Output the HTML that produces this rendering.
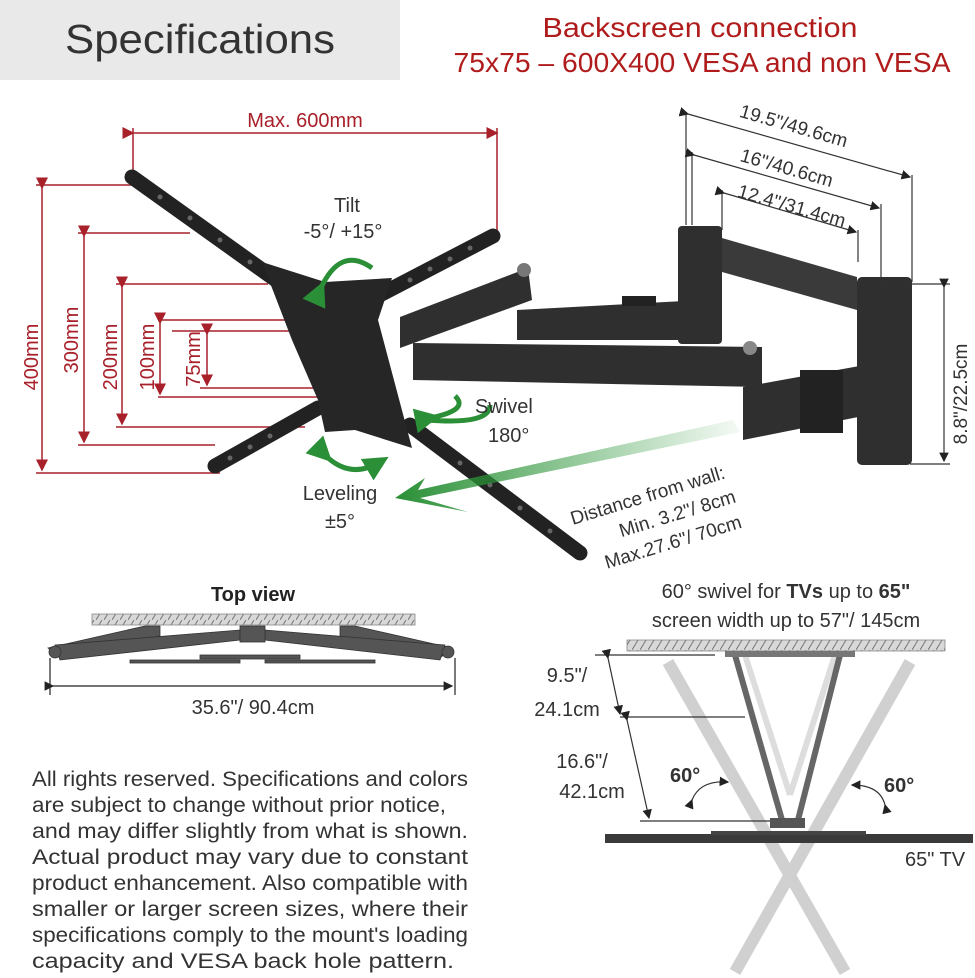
<!DOCTYPE html>
<html><head><meta charset="utf-8"><style>
html,body{margin:0;padding:0;background:#fff}
svg{display:block}
text{font-family:"Liberation Sans",sans-serif}
</style></head><body>
<svg width="975" height="978" viewBox="0 0 975 978" xmlns="http://www.w3.org/2000/svg">
<defs>
<linearGradient id="g" x1="1" y1="0" x2="0" y2="0"><stop offset="0" stop-color="#2e9a3c" stop-opacity="0.05"/><stop offset="1" stop-color="#2a8f36"/></linearGradient>
<pattern id="h" width="8" height="10" patternUnits="userSpaceOnUse"><rect width="8" height="10" fill="#d8d8d8"/><line x1="0" y1="10" x2="6" y2="0" stroke="#777" stroke-width="1"/></pattern>
<marker id="ar" markerWidth="8" markerHeight="8" refX="7" refY="4" orient="auto"><path d="M0,0L8,4L0,8z" fill="#a8202a"/></marker>
<marker id="ak" markerWidth="8" markerHeight="8" refX="7" refY="4" orient="auto"><path d="M0,0L8,4L0,8z" fill="#222"/></marker>
<marker id="ag" markerWidth="5" markerHeight="5" refX="3" refY="2.5" orient="auto"><path d="M0,0L5,2.5L0,5z" fill="#2a8f36"/></marker>
</defs>
<rect x="0" y="0" width="400" height="80" fill="#e9e9e9"/>
<text x="200" y="53" font-size="41" fill="#333" text-anchor="middle" textLength="270" lengthAdjust="spacingAndGlyphs">Specifications</text>
<text x="700" y="37" font-size="28" fill="#b01c1c" text-anchor="middle" textLength="315" lengthAdjust="spacingAndGlyphs">Backscreen connection</text>
<text x="702" y="72" font-size="28" fill="#b01c1c" text-anchor="middle" textLength="497" lengthAdjust="spacingAndGlyphs">75x75 – 600X400 VESA and non VESA</text>

<!-- red dimensions -->
<g stroke="#a8202a" stroke-width="1.5" fill="none">
<line x1="133" y1="133" x2="497" y2="133" marker-start="url(#ar)" marker-end="url(#ar)"/>
<line x1="133" y1="128" x2="133" y2="182"/><line x1="497" y1="128" x2="497" y2="232"/>
<line x1="36" y1="185" x2="135" y2="185"/><line x1="36" y1="473" x2="220" y2="473"/>
<line x1="42" y1="188" x2="42" y2="470" marker-start="url(#ar)" marker-end="url(#ar)"/>
<line x1="78" y1="233" x2="190" y2="233"/><line x1="78" y1="445" x2="215" y2="445"/>
<line x1="84" y1="236" x2="84" y2="442" marker-start="url(#ar)" marker-end="url(#ar)"/>
<line x1="116" y1="284" x2="268" y2="284"/><line x1="116" y1="427" x2="305" y2="427"/>
<line x1="122" y1="287" x2="122" y2="424" marker-start="url(#ar)" marker-end="url(#ar)"/>
<line x1="158" y1="320" x2="318" y2="320"/><line x1="158" y1="397" x2="325" y2="397"/>
<line x1="160" y1="323" x2="160" y2="394" marker-start="url(#ar)" marker-end="url(#ar)"/>
<line x1="172" y1="331" x2="320" y2="331"/><line x1="200" y1="388" x2="320" y2="388"/>
<line x1="207" y1="334" x2="207" y2="385" marker-start="url(#ar)" marker-end="url(#ar)"/>
</g>
<g fill="#a8202a" font-size="20">
<text x="305" y="127" text-anchor="middle">Max. 600mm</text>
<text transform="translate(38,357) rotate(-90)" text-anchor="middle">400mm</text>
<text transform="translate(78,340) rotate(-90)" text-anchor="middle">300mm</text>
<text transform="translate(117,357) rotate(-90)" text-anchor="middle">200mm</text>
<text transform="translate(154,357) rotate(-90)" text-anchor="middle">100mm</text>
<text transform="translate(200,359) rotate(-90)" text-anchor="middle">75mm</text>
</g>

<!-- wall bracket and arms -->
<g fill="#2f2f2f">
<polygon points="722,238 857,277 857,310 722,272" fill="#3a3a3a"/>
<rect x="678" y="226" width="44" height="118" rx="4"/>
<rect x="857" y="277" width="55" height="188" rx="5"/>
<polygon points="400,317 528,268 532,300 400,348"/>
<polygon points="517,310 703,300 703,340 517,340"/>
<rect x="622" y="296" width="34" height="10" fill="#222"/>
<polygon points="413,343 762,347 762,387 413,380"/>
<polygon points="743,387 893,360 893,410 743,440"/>
<rect x="800" y="370" width="43" height="63" fill="#222"/>
<circle cx="524" cy="270" r="7" fill="#777"/><circle cx="750" cy="348" r="7" fill="#888"/>
</g>
<!-- VESA X -->
<g stroke="#222" stroke-width="15" stroke-linecap="round">
<line x1="132" y1="177" x2="290" y2="290"/>
<line x1="493" y1="236" x2="370" y2="300"/>
<line x1="215" y1="466" x2="318" y2="408"/>
<line x1="580" y1="553" x2="410" y2="425"/>
</g>
<polygon points="262,262 325,282 392,278 378,320 412,448 355,430 325,432 318,400 292,340" fill="#262626"/>
<g fill="#666">
<circle cx="160" cy="197" r="2.5"/><circle cx="190" cy="218" r="2.5"/><circle cx="220" cy="240" r="2.5"/><circle cx="250" cy="262" r="2.5"/>
<circle cx="470" cy="248" r="2.5"/><circle cx="450" cy="259" r="2.5"/><circle cx="430" cy="269" r="2.5"/><circle cx="410" cy="280" r="2.5"/>
<circle cx="230" cy="458" r="2.5"/><circle cx="250" cy="447" r="2.5"/><circle cx="270" cy="436" r="2.5"/>
<circle cx="550" cy="531" r="2.5"/><circle cx="520" cy="508" r="2.5"/><circle cx="490" cy="485" r="2.5"/><circle cx="460" cy="463" r="2.5"/>
</g>
<!-- green arrows -->
<g stroke="#2a8f36" stroke-width="5" fill="none">
<path d="M320,290 Q340,245 372,268" marker-start="url(#ag)"/>
<path d="M430,418 Q470,410 455,396 M428,420 Q490,425 490,405" marker-start="url(#ag)"/>
<path d="M325,455 Q350,480 380,462" marker-start="url(#ag)" marker-end="url(#ag)"/>
</g>
<polygon points="733,420 740,432 420,498 468,512 395,498 425,478 418,490" fill="url(#g)"/>
<g fill="#333" font-size="20">
<text x="347" y="212" text-anchor="middle">Tilt</text>
<text x="343" y="238" text-anchor="middle">-5°/ +15°</text>
<text x="475" y="413">Swivel</text>
<text x="488" y="442">180°</text>
<text x="340" y="500" text-anchor="middle">Leveling</text>
<text x="340" y="528" text-anchor="middle">±5°</text>
<g transform="rotate(-17,650,470)"><text x="560" y="500" font-size="19">Distance from wall:</text><text x="603" y="526" font-size="19">Min. 3.2"/ 8cm</text><text x="580" y="552" font-size="19">Max.27.6"/ 70cm</text></g>
</g>
<!-- top-right dims -->
<g stroke="#333" stroke-width="1.2" fill="none">
<line x1="686" y1="112" x2="686" y2="225"/><line x1="912" y1="175" x2="912" y2="282"/>
<line x1="688" y1="114" x2="910" y2="177" marker-start="url(#ak)" marker-end="url(#ak)"/>
<line x1="692" y1="152" x2="692" y2="225"/><line x1="881" y1="204" x2="881" y2="282"/>
<line x1="694" y1="155" x2="879" y2="208" marker-start="url(#ak)" marker-end="url(#ak)"/>
<line x1="722" y1="190" x2="722" y2="230"/><line x1="858" y1="230" x2="858" y2="262"/>
<line x1="724" y1="193" x2="856" y2="232" marker-start="url(#ak)" marker-end="url(#ak)"/>
<line x1="910" y1="284" x2="950" y2="284"/><line x1="910" y1="464" x2="950" y2="464"/>
<line x1="944" y1="287" x2="944" y2="461" marker-start="url(#ak)" marker-end="url(#ak)"/>
</g>
<g fill="#333" font-size="19">
<text transform="translate(792,132) rotate(16)" text-anchor="middle">19.5"/49.6cm</text>
<text transform="translate(785,174) rotate(16)" text-anchor="middle">16"/40.6cm</text>
<text transform="translate(790,212) rotate(16)" text-anchor="middle">12.4"/31.4cm</text>
<text transform="translate(967,394) rotate(-90)" text-anchor="middle">8.8"/22.5cm</text>
</g>

<!-- top view -->
<text x="253" y="601" font-size="20" font-weight="bold" fill="#222" text-anchor="middle">Top view</text>
<rect x="92" y="614" width="323" height="11" fill="url(#h)" stroke="#888" stroke-width="0.8"/>
<g fill="#555" stroke="#333" stroke-width="0.8">
<polygon points="48,648 145,626 160,626 160,636 60,658"/>
<polygon points="452,648 355,626 340,626 340,636 440,658"/>
<polygon points="55,645 240,630 240,640 60,660"/>
<polygon points="445,645 265,630 265,640 440,660"/>
<rect x="240" y="626" width="25" height="16"/>
<rect x="130" y="660" width="110" height="3"/><rect x="265" y="660" width="110" height="3"/>
<rect x="200" y="655" width="100" height="4"/>
<circle cx="55" cy="652" r="6"/><circle cx="448" cy="652" r="6"/>
</g>
<g stroke="#222" stroke-width="1.2" fill="none">
<line x1="50" y1="658" x2="50" y2="695"/><line x1="455" y1="658" x2="455" y2="695"/>
<line x1="53" y1="686" x2="452" y2="686" marker-start="url(#ak)" marker-end="url(#ak)"/>
</g>
<text x="253" y="714" font-size="20" fill="#333" text-anchor="middle">35.6"/ 90.4cm</text>

<!-- bottom right swivel -->
<text x="786" y="598" font-size="20" fill="#333" text-anchor="middle">60° swivel for <tspan font-weight="bold">TVs</tspan> up to <tspan font-weight="bold">65"</tspan></text>
<text x="786" y="627" font-size="20" fill="#333" text-anchor="middle">screen width up to 57"/ 145cm</text>
<rect x="627" y="640" width="318" height="11" fill="url(#h)" stroke="#888" stroke-width="0.8"/>
<g stroke="#ccc" stroke-width="12" opacity="0.9">
<line x1="668" y1="662" x2="845" y2="972"/>
<line x1="910" y1="662" x2="735" y2="972"/>
</g>
<g stroke="#ddd" stroke-width="6"><line x1="745" y1="655" x2="790" y2="795"/><line x1="835" y1="655" x2="790" y2="795"/></g>
<g stroke="#666" stroke-width="6">
<line x1="735" y1="655" x2="782" y2="820"/><line x1="840" y1="655" x2="798" y2="820"/>
</g>
<rect x="725" y="651" width="130" height="6" fill="#777"/>
<rect x="770" y="818" width="35" height="10" fill="#555"/>
<rect x="605" y="834" width="368" height="9" fill="#3a3a3a"/>
<rect x="711" y="831" width="155" height="4" fill="#444"/>
<g stroke="#333" stroke-width="1.2" fill="none">
<line x1="595" y1="655" x2="715" y2="655"/><line x1="620" y1="717" x2="745" y2="717"/><line x1="640" y1="821" x2="770" y2="821"/>
<line x1="608" y1="658" x2="620" y2="714" marker-start="url(#ak)" marker-end="url(#ak)"/>
<line x1="627" y1="720" x2="649" y2="818" marker-start="url(#ak)" marker-end="url(#ak)"/>
<path d="M692,800 Q700,780 728,782" marker-start="url(#ak)" marker-end="url(#ak)"/>
<path d="M885,805 Q880,785 852,785" marker-start="url(#ak)" marker-end="url(#ak)"/>
</g>
<g fill="#333" font-size="20">
<text x="567" y="682" text-anchor="middle">9.5"/</text>
<text x="567" y="716" text-anchor="middle">24.1cm</text>
<text x="582" y="768" text-anchor="middle">16.6"/</text>
<text x="592" y="798" text-anchor="middle">42.1cm</text>
<text x="670" y="782" font-weight="bold">60°</text>
<text x="884" y="792" font-weight="bold">60°</text>
<text x="905" y="866">65" TV</text>
</g>

<!-- disclaimer -->
<g fill="#333" font-size="21" lengthAdjust="spacingAndGlyphs">
<text x="32" y="786" textLength="436" lengthAdjust="spacingAndGlyphs">All rights reserved. Specifications and colors</text>
<text x="32" y="812" textLength="414" lengthAdjust="spacingAndGlyphs">are subject to change without prior notice,</text>
<text x="32" y="838" textLength="436" lengthAdjust="spacingAndGlyphs">and may differ slightly from what is shown.</text>
<text x="32" y="864" textLength="436" lengthAdjust="spacingAndGlyphs">Actual product may vary due to constant</text>
<text x="32" y="890" textLength="436" lengthAdjust="spacingAndGlyphs">product enhancement. Also compatible with</text>
<text x="32" y="916" textLength="436" lengthAdjust="spacingAndGlyphs">smaller or larger screen sizes, where their</text>
<text x="32" y="942" textLength="436" lengthAdjust="spacingAndGlyphs">specifications comply to the mount's loading</text>
<text x="32" y="968" textLength="422" lengthAdjust="spacingAndGlyphs">capacity and VESA back hole pattern.</text>
</g>
</svg>
</body></html>
